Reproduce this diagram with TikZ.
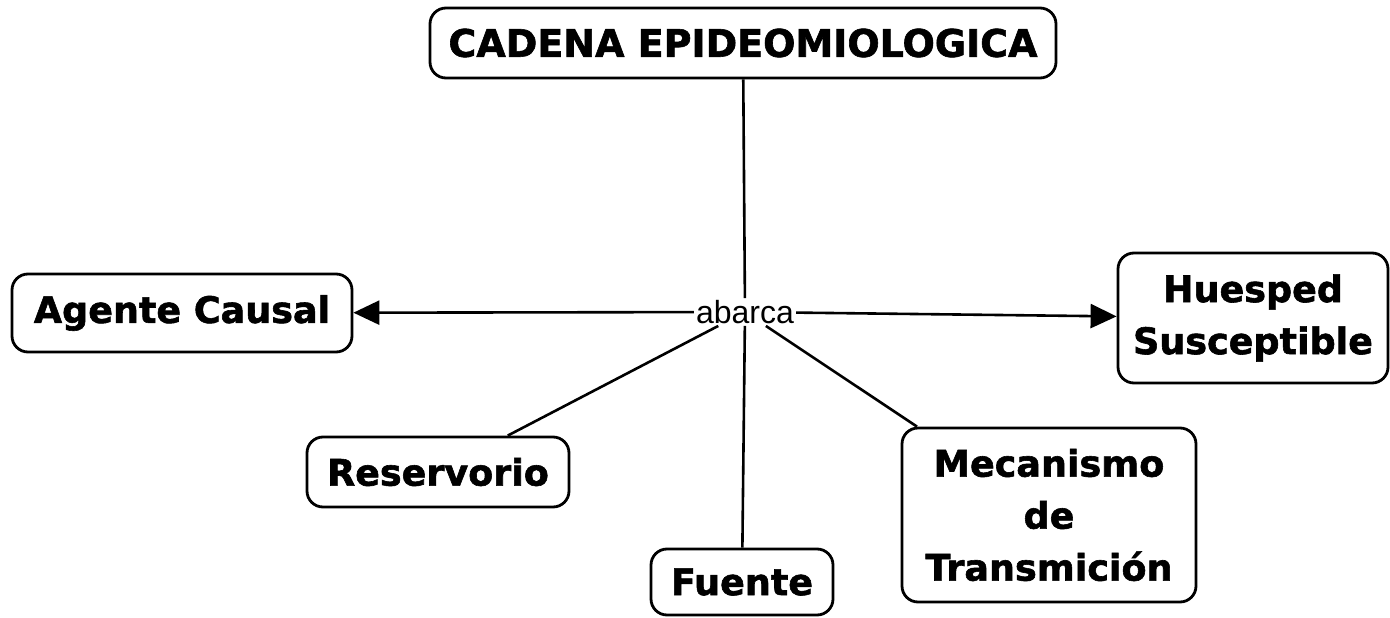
\documentclass[tikz,border=0pt]{standalone}
\usepackage{fontspec}
\setmainfont{DejaVu Sans}
\newfontfamily\heavy{DejaVu Sans Bold}[FakeBold=1.6]
\newfontfamily\abfont{Liberation Sans}
\usetikzlibrary{arrows.meta}
\begin{document}
\begin{tikzpicture}[x=1pt,y=1pt,
  concept/.style={draw, line width=2.8pt, rounded corners=16pt, align=center,
    font=\fontsize{36.5}{52}\selectfont\heavy, inner sep=0pt},
  link/.style={line width=2.6pt},
  arrowlink/.style={line width=2.6pt, -{Triangle[length=26pt,width=24pt]}}]
\useasboundingbox (0,0) rectangle (1390,-618);
\node[concept, minimum width=626, minimum height=70, font=\fontsize{38}{52}\selectfont\heavy] (top) at (743,-43) {CADENA EPIDEOMIOLOGICA};
\node[concept, minimum width=340, minimum height=78] (agente) at (182,-313) {Agente Causal};
\node[concept, minimum width=270, minimum height=130] (huesped) at (1253,-318) {Huesped\\Susceptible};
\node[concept, minimum width=262, minimum height=70] (reserv) at (438,-472) {Reservorio};
\node[concept, minimum width=182, minimum height=66] (fuente) at (742,-582) {Fuente};
\node[concept, minimum width=294, minimum height=174] (mecan) at (1049,-515) {Mecanismo\\de\\Transmición};
\node[font=\fontsize{32}{36}\selectfont\abfont, inner sep=2pt] (abarca) at (745,-312) {abarca};
\draw[link] (top) -- (abarca);
\draw[arrowlink] (abarca) -- (agente);
\draw[arrowlink] (abarca) -- (huesped);
\draw[link] (abarca) -- (reserv);
\draw[link] (abarca) -- (fuente);
\draw[link] (abarca) -- (mecan);
\end{tikzpicture}
\end{document}
